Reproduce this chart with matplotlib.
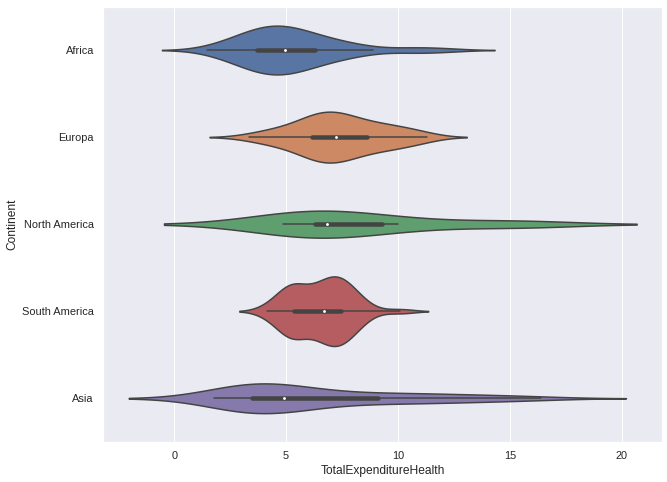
import pandas as pd
import matplotlib
matplotlib.use("Agg")
import matplotlib.pyplot as plt
import seaborn as sns

continents = ["Africa", "Europa", "North America", "South America", "Asia"]

africa = [1.45, 1.9, 2.15, 2.4, 2.6, 2.8, 2.95, 3.05, 3.15, 3.25,
          3.35, 3.45, 3.55, 3.62, 3.68, 3.71, 3.85, 3.95, 4.05, 4.12,
          4.2, 4.28, 4.35, 4.42, 4.48, 4.55, 4.62, 4.7, 4.78, 4.9,
          4.93, 4.97, 5.05, 5.13, 5.22, 5.3, 5.38, 5.46, 5.55, 5.65,
          5.75, 5.85, 5.95, 6.1, 6.2, 6.31, 6.45, 6.6, 6.77, 6.95,
          7.1, 7.3, 7.5, 7.75, 8.05, 8.4, 8.89, 10.3, 10.8, 11.4, 12.32]
europa = [3.35, 3.95, 4.3, 4.6, 4.88, 5.15, 5.4, 5.62, 5.82, 5.97,
          6.07, 6.15, 6.25, 6.35, 6.45, 6.55, 6.64, 6.73, 6.83, 6.93,
          7.02, 7.12, 7.21, 7.3, 7.4, 7.5, 7.6, 7.7, 7.82, 7.95,
          8.1, 8.28, 8.45, 8.63, 8.82, 9.0, 9.2, 9.4, 9.6, 9.8,
          10.05, 10.3, 10.6, 10.95, 11.3]
north_america = [4.88, 6.23, 6.44, 7.18, 9.98, 15.33]
south_america = [4.15, 4.45, 4.8, 4.95, 5.05, 5.12, 5.2, 5.25, 5.3, 5.33,
                 5.36, 5.45, 5.6, 5.8, 6.0, 6.2, 6.35, 6.5, 6.6, 6.65,
                 6.71, 6.8, 6.9, 7.0, 7.08, 7.15, 7.22, 7.3, 7.38, 7.45,
                 7.53, 7.6, 7.68, 7.76, 7.85, 7.95, 8.1, 8.3, 8.6, 10.11]
asia = [1.77, 2.1, 2.35, 2.55, 2.72, 2.88, 3.0, 3.12, 3.24, 3.35,
        3.46, 3.6, 3.75, 3.9, 4.05, 4.2, 4.35, 4.5, 4.62, 4.76,
        4.91, 5.1, 5.35, 5.6, 5.9, 6.3, 6.8, 7.3, 7.9, 8.5,
        9.13, 9.6, 10.1, 10.7, 11.3, 11.9, 12.6, 13.4, 14.3, 15.3, 16.39]

groups = [africa, europa, north_america, south_america, asia]
df = pd.DataFrame({
    "Continent": [c for c, g in zip(continents, groups) for _ in g],
    "TotalExpenditureHealth": [v for g in groups for v in g],
})

sns.set_theme()
plt.rcParams["font.family"] = ["Liberation Sans", "DejaVu Sans"]

fig, ax = plt.subplots(figsize=(667 / 72, 482 / 72), dpi=72)
sns.violinplot(data=df, x="TotalExpenditureHealth", y="Continent",
               hue="Continent", order=continents, legend=False,
               common_norm=True, linewidth=1.5, linecolor="#444444",
               inner_kws=dict(box_width=4.5, whis_width=1.5, marker="."),
               ax=ax)

fig.subplots_adjust(left=0.155, right=0.9925, top=0.9865, bottom=0.0834)
fig.savefig("out.png", dpi=72)
